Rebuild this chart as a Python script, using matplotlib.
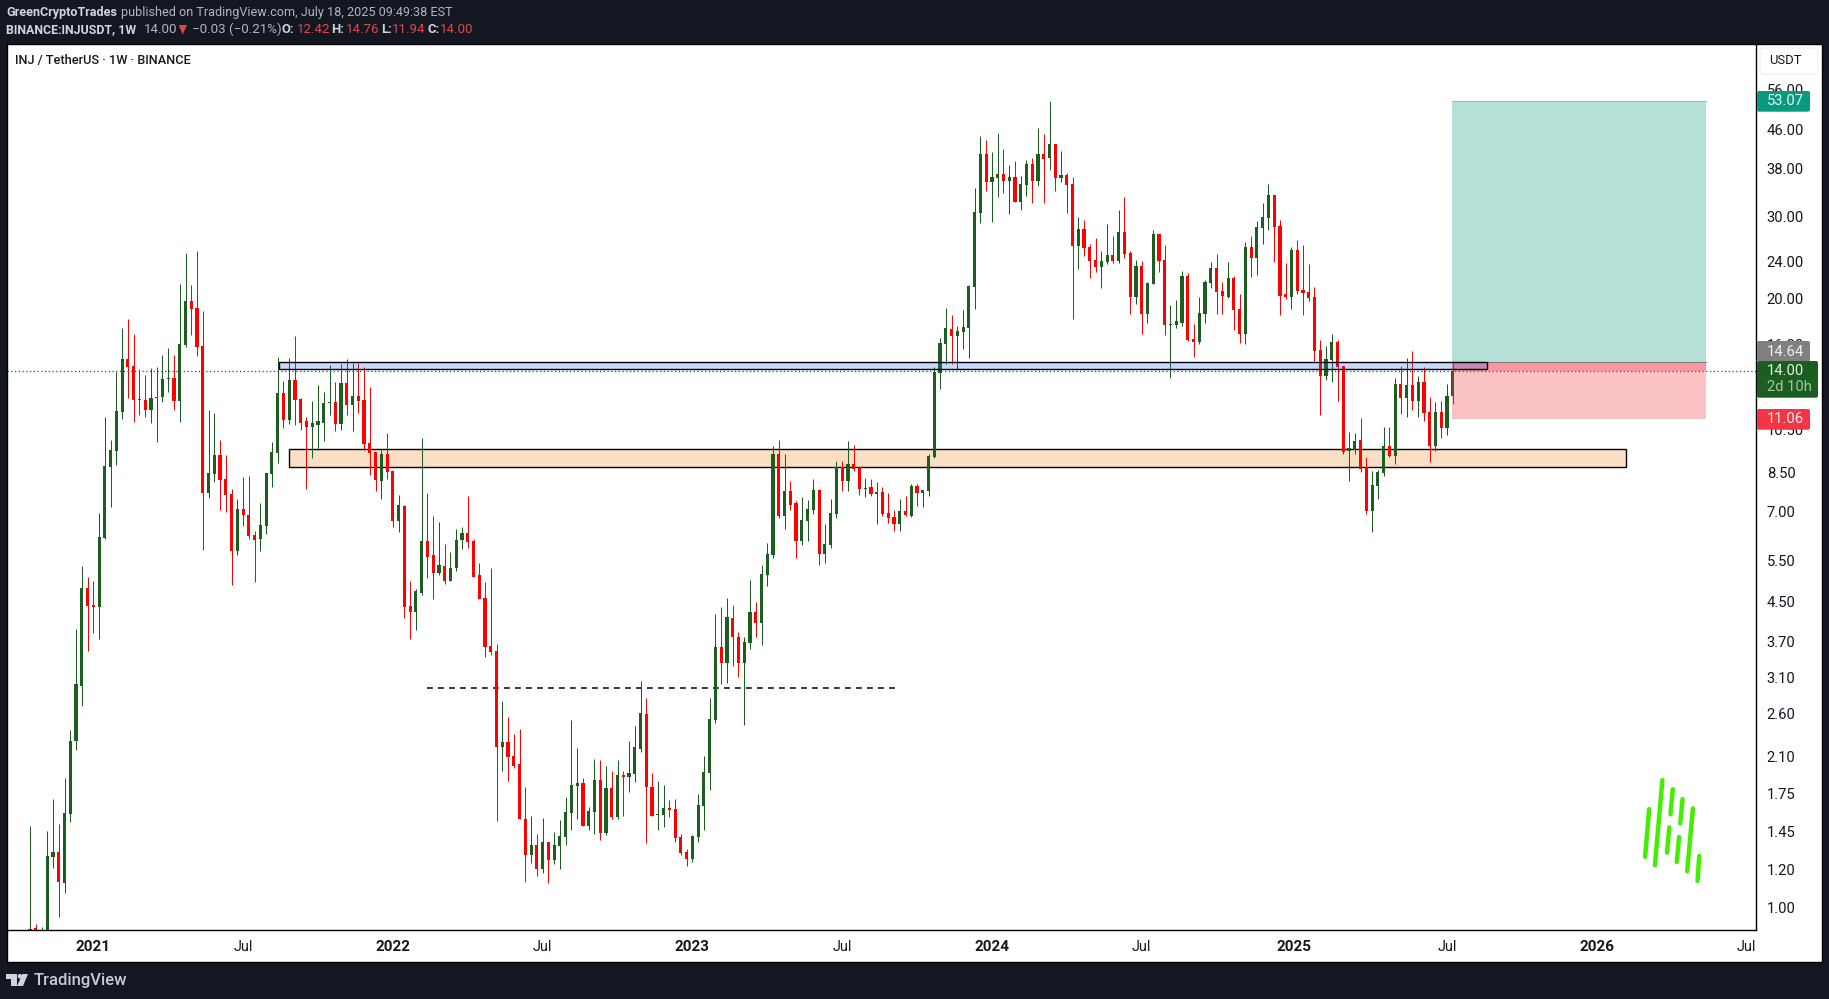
import numpy as np
import matplotlib
matplotlib.use("Agg")
import matplotlib.pyplot as plt
from matplotlib.patches import FancyBboxPatch, Rectangle, Polygon, Circle
from matplotlib.transforms import IdentityTransform
from matplotlib.ticker import NullLocator, FixedLocator, FixedFormatter

# ---------- data (weekly candles, index 0 = Oct 2020) ----------
directions = ("grgggrgggg" "rrgggggrrr" "rggggrggrr" "rggrrrgrrr" "ggggrgrrrg"
              "gggrgrgrrr" "rgrrgrrggr" "rgrgggrrrr" "rrgrrrrgrg" "rgggggrggr"
              "grgrgggrrg" "grrrrggggg" "rgrrggrggg" "rgrrgggrgg" "grgrrgrgrr"
              "rgrgrggggg" "rgggggrggr" "grggrgrgrg" "rrgrrrggrg"
              "rrgrggrrgg" "grrgggrrgr" "rgrgggrrrg" "rrrrrggrrg" "grrgggrgrg" "rgrrgrgg")

highs = [1.49,0.92,0.906,1.454,1.70,1.505,1.888,2.39,3.93,5.36,
 5.08,4.98,6.96,11.19,9.98,13.96,17.33,18.1,16.83,14.16,
 13.75,14.23,14.3,15.17,15.7,15.17,21.5,25.07,21.4,25.3,
 18.84,11.57,11.39,9.98,9.27,7.84,7.46,8.31,8.36,6.37,
 7.32,8.48,9.88,15.0,13.35,14.95,16.67,12.28,11.18,12.09,
 13.08,12.64,14.44,13.28,14.51,14.87,14.58,14.58,14.3,12.95,
 9.4,9.5,10.33,8.61,7.62,7.25,4.98,4.79,10.08,7.69,
 6.86,6.66,5.98,5.75,6.44,6.5,7.58,6.13,5.44,4.96,
 5.31,3.66,2.76,2.55,2.35,2.40,1.806,1.566,1.433,1.55,
 1.377,1.447,1.535,1.72,2.51,2.19,1.888,1.636,2.07,2.063,
 2.0,1.954,2.063,1.954,2.26,2.44,3.04,2.8,1.935,1.86,
 1.823,1.694,1.702,1.433,1.33,1.426,1.745,2.105,2.8,4.23,
 4.38,4.58,4.43,3.88,3.78,5.0,4.49,5.39,6.0,9.7,
 9.98,9.31,8.15,7.39,7.54,7.43,8.23,7.84,6.6,7.46,
 9.0,9.0,9.93,9.74,8.79,8.27,8.23,8.11,7.91,7.69,
 7.07,7.46,7.58,8.03,8.03,7.8,9.31,14.3,16.5,19.11,
 18.47,17.5,18.93,21.4,34.55,44.7,43.75,41.2,45.3,41.85,
 38.7,39.44,36.65,39.64,40.04,46.4,45.1,53.07,42.9,41.44,
 37.2,36.4,29.9,29.5,26.2,27.0,25.3,28.9,27.3,31.0,
 33.0,25.3,24.22,24.1,21.73,28.08,27.5,26.08,19.4,19.89,
 22.95,22.7,17.7,20.2,21.95,23.98,24.95,21.73,23.98,22.4,
 20.5,26.46,27.3,29.35,32.05,35.2,33.37,29.5,23.85,25.81,
 26.73,26.08,23.75,21.2,16.33,15.86,16.83,16.33,14.37,10.38,
 10.33,11.12,9.18,8.57,8.61,10.65,10.65,13.54,14.37,14.95,
 15.47,13.68,14.3,12.34,12.03,12.09,13.14,14.76]

body_tops = [.896,.90,.871,1.286,1.311,1.311,1.59,2.27,3.00,4.81,
 4.81,4.43,6.19,8.77,9.50,11.5,14.87,14.87,14.37,12.21,
 12.15,12.28,12.34,13.48,13.54,13.54,16.0,19.79,19.79,19.11,
 15.86,8.48,9.27,9.27,8.23,7.65,7.10,7.10,6.9,6.25,
 6.56,8.48,9.4,12.58,12.58,13.41,13.41,12.21,10.96,10.85,
 10.96,11.97,12.03,12.03,13.21,13.21,12.4,12.4,12.15,9.83,
 9.4,9.31,9.31,8.57,7.25,7.21,4.41,4.74,6.07,6.07,
 5.66,5.39,5.36,5.31,6.1,6.31,6.31,6.07,5.13,4.58,
 3.62,3.53,2.25,2.25,2.1,2.02,1.543,1.357,1.357,1.377,
 1.377,1.357,1.419,1.597,1.823,1.84,1.84,1.604,1.869,1.869,
 1.797,1.797,1.916,1.916,1.935,2.2,2.6,2.59,1.806,1.582,
 1.628,1.628,1.62,1.412,1.311,1.419,1.654,1.945,2.52,3.6,
 3.6,4.17,4.15,3.78,3.69,4.27,4.27,5.16,5.69,9.31,
 9.31,7.76,7.76,7.32,6.73,7.1,7.8,7.8,5.98,6.96,
 8.74,8.74,8.87,8.87,8.74,7.88,7.91,7.73,7.73,6.96,
 6.83,7.03,7.03,7.95,7.95,7.8,9.22,13.96,16.1,17.33,
 17.25,17.07,17.41,21.3,30.7,40.8,40.8,36.4,37.0,37.0,
 36.4,36.4,35.2,38.9,38.9,40.8,40.8,42.9,42.9,36.8,
 36.8,35.2,28.2,28.2,25.8,24.22,24.1,24.8,24.8,27.8,
 27.8,25.07,23.5,23.5,21.62,27.5,27.5,24.22,17.7,17.9,
 22.4,22.4,16.41,18.65,21.73,23.28,23.28,20.8,22.17,22.17,
 19.02,25.81,25.81,28.5,29.95,33.37,33.37,28.65,20.5,25.44,
 25.44,20.89,20.7,20.2,15.55,14.87,16.17,16.17,14.37,9.59,
 9.93,9.98,8.74,7.99,8.52,9.69,9.69,13.14,13.14,13.08,
 13.08,13.28,13.28,11.44,11.44,11.44,12.4,14.0]

body_bottoms = [.83,.87,.817,.85,1.279,1.131,1.125,1.582,2.27,2.97,
 4.41,4.38,4.38,6.16,8.74,9.45,11.44,14.3,12.15,12.15,
 11.57,11.57,12.28,12.34,13.48,12.09,12.09,15.94,19.02,15.78,
 7.69,7.69,8.44,8.2,7.62,5.78,5.78,6.9,6.22,6.1,
 6.13,6.53,8.44,9.36,11.01,11.01,12.15,10.85,10.65,10.65,
 10.76,10.85,11.97,10.8,10.8,11.86,11.86,12.09,9.78,9.36,
 8.2,8.15,8.52,6.7,6.7,4.38,4.27,4.27,4.69,5.61,
 5.18,5.18,4.98,4.98,5.31,6.1,6.04,5.08,4.56,3.6,
 3.51,2.2,2.2,2.09,2.0,1.54,1.29,1.29,1.206,1.206,
 1.26,1.26,1.35,1.41,1.59,1.815,1.49,1.49,1.597,1.44,
 1.44,1.558,1.558,1.897,1.897,1.926,2.18,1.806,1.566,1.574,
 1.574,1.612,1.405,1.305,1.267,1.267,1.412,1.645,1.935,2.512,
 3.33,3.33,3.78,3.33,3.33,3.67,4.05,4.05,5.13,5.66,
 6.86,6.86,7.25,6.07,6.07,6.7,7.07,5.69,5.69,5.95,
 6.93,8.15,8.15,8.65,7.84,7.84,7.65,7.65,6.93,6.79,
 6.6,6.6,6.9,6.86,7.69,7.69,7.76,9.18,13.89,16.0,
 16.67,16.67,16.98,17.33,21.2,30.5,35.56,35.56,36.2,35.74,
 35.74,32.2,32.2,35.05,35.74,35.74,39.84,40.04,36.2,36.2,
 35.05,26.0,26.0,25.7,24.1,23.4,23.4,24.0,24.1,24.1,
 24.95,20.2,20.2,18.6,18.6,21.5,24.1,17.6,17.6,17.6,
 17.8,16.33,16.17,16.17,18.6,21.62,20.7,20.3,20.2,18.93,
 16.83,16.83,24.45,24.45,28.36,29.8,28.5,20.3,20.2,20.2,
 20.8,20.6,20.09,15.47,13.68,13.68,14.8,14.3,9.4,9.45,
 9.5,8.65,7.03,7.03,7.95,8.48,9.22,9.22,12.28,12.28,
 12.09,12.09,11.39,9.69,9.69,10.6,10.6,12.42]

lows = [.79,.83,.79,.83,1.212,.952,1.071,1.52,2.167,2.69,
 3.53,3.85,3.74,6.12,7.17,8.82,11.07,12.28,10.9,11.29,
 11.18,10.85,9.88,12.03,12.64,11.57,10.9,15.78,16.75,15.1,
 5.80,7.5,8.11,7.07,6.99,4.89,5.66,6.54,6.13,4.96,
 5.78,6.29,7.91,8.91,10.6,10.8,10.76,10.48,7.84,9.13,
 9.59,9.93,11.29,10.43,10.48,11.29,10.43,11.39,9.5,8.4,
 7.76,7.46,8.23,6.5,6.34,4.15,3.74,3.91,4.64,5.06,
 4.56,5.13,4.9,4.98,5.23,5.83,5.86,5.08,4.56,3.42,
 3.46,1.527,1.95,1.86,1.98,1.54,1.131,1.242,1.165,1.182,
 1.125,1.236,1.206,1.357,1.461,1.543,1.49,1.461,1.433,1.391,
 1.426,1.543,1.543,1.566,1.762,1.851,2.145,1.37,1.566,1.461,
 1.483,1.558,1.377,1.292,1.224,1.248,1.377,1.461,1.779,2.475,
 3.0,3.01,3.28,3.1,2.45,3.57,3.78,3.63,4.86,5.58,
 6.79,6.44,7.07,5.58,5.95,6.07,6.93,5.39,5.44,5.86,
 6.79,7.76,7.76,8.57,7.62,7.54,7.58,6.6,6.86,6.63,
 6.37,6.37,6.86,6.83,7.21,7.17,7.58,9.13,12.83,14.51,
 14.51,14.16,15.63,14.95,19.02,29.06,34.0,29.2,33.0,33.7,
 30.4,32.2,30.99,33.2,32.0,34.9,32.0,37.74,34.0,35.56,
 30.5,18.1,23.2,24.7,22.2,22.85,21.1,23.75,23.85,23.85,
 24.45,18.6,19.5,16.83,17.8,21.5,22.85,16.75,13.55,17.33,
 17.5,16.25,15.0,16.0,17.8,21.1,18.6,18.6,20.09,17.16,
 16.1,16.0,22.3,22.55,26.2,28.08,23.98,18.47,20.0,19.02,
 20.5,18.47,19.8,14.72,11.29,13.41,13.28,12.09,9.31,8.15,
 9.31,8.52,6.93,6.34,7.46,8.36,9.18,8.87,11.34,11.18,
 11.57,11.18,10.96,8.96,9.45,10.08,10.23,11.94]

price_ticks = [1.00,1.20,1.45,1.75,2.10,2.60,3.10,3.70,4.50,5.50,7.00,8.50,10.50,13.00,16.00,20.00,24.00,30.00,38.00,46.00,56.00]
x_tick_pos = [11,37,63,89,115,141,167,193,219.5,246,272,298]
x_tick_labels = ["2021","Jul","2022","Jul","2023","Jul","2024","Jul","2025","Jul","2026","Jul"]

last_price = 14.00
entry_price, target_price, stop_price = 14.64, 53.07, 11.06
blue_zone = (43.2, 253.0, 14.14, 14.64)
orange_zone = (45.0, 277.0, 8.72, 9.55)
dashed_level = (69.0, 150.2, 2.94)
position_span = (246.9, 291.0)

scribble_x = [(281.1,280.4),(283.4,282.1),(285.2,284.8),(284.6,284.2),(286.9,286.5),(286.3,285.9),(288.7,287.7),(289.8,289.5)]
scribble_p = [(1.62,1.28),(1.869,1.228),(1.786,1.579),(1.481,1.307),(1.702,1.51),(1.412,1.248),(1.626,1.192),(1.286,1.137)]

# ---------- layout ----------
W, H = 1829, 999
DARK = "#131722"
FONT = "Roboto"
GREEN = "#1b5e20"
RED = "#ff0000"
fig = plt.figure(figsize=(W/100, H/100), dpi=100, facecolor=DARK)
plt.rcParams["font.family"] = FONT

def axrect(l, t, r, b):
    return [l/W, 1-b/H, (r-l)/W, (b-t)/H]

panel = fig.add_axes(axrect(7, 44, 1822, 962), facecolor="white", zorder=0)
panel.set_xticks([]); panel.set_yticks([])
for s in panel.spines.values():
    s.set_color("black"); s.set_linewidth(1.0)

ax = fig.add_axes(axrect(7, 44, 1756, 930), facecolor="none", zorder=1)
ax.set_yscale("log")
ax.set_xlim(-3.99, 299.65)
ax.set_ylim(0.8929, 70.19)
for side in ("top", "left"):
    ax.spines[side].set_visible(False)
for side in ("bottom", "right"):
    ax.spines[side].set_color("black"); ax.spines[side].set_linewidth(1.0)

# price axis
ax.yaxis.tick_right()
ax.yaxis.set_major_locator(FixedLocator(price_ticks))
ax.yaxis.set_major_formatter(FixedFormatter([f"{p:.2f}" for p in price_ticks]))
ax.yaxis.set_minor_locator(NullLocator())
ax.tick_params(axis="y", which="both", length=0, pad=7.7, labelsize=10.6, labelcolor="#131722")
for lab in ax.get_yticklabels():
    lab.set_fontfamily(FONT)

# time axis
ax.set_xticks(x_tick_pos)
ax.set_xticklabels(x_tick_labels)
ax.tick_params(axis="x", length=0, pad=7.0, labelcolor="#131722")
for lab, txt in zip(ax.get_xticklabels(), x_tick_labels):
    lab.set_fontfamily(FONT)
    if txt.isdigit():
        lab.set_fontweight("bold"); lab.set_fontsize(11)
    else:
        lab.set_fontsize(10.4)

# zones below candles
ax.add_patch(Rectangle((orange_zone[0], orange_zone[2]), orange_zone[1]-orange_zone[0], orange_zone[3]-orange_zone[2],
                       facecolor="#fbdfc4", edgecolor="black", linewidth=1.0, zorder=1))

# dotted last price line
ax.axhline(last_price, color=GREEN, linestyle=(0, (1, 2)), linewidth=0.9, zorder=1.5)

# dashed level
ax.plot(dashed_level[:2], [dashed_level[2]]*2, color="black", linestyle=(0, (3.8, 3.4)), linewidth=1.1, zorder=1.5)

# candles
xs = np.arange(len(highs))
colors = [GREEN if d == "g" else RED for d in directions]
wicks = ax.vlines(xs, lows, highs, colors=colors, linewidth=0.72, zorder=2)
wicks.set_snap(True)
ax.bar(xs, np.array(body_tops)-np.array(body_bottoms), bottom=body_bottoms, width=0.55,
       color=colors, linewidth=0, zorder=2.1)

# zone above candles
ax.add_patch(Rectangle((blue_zone[0], blue_zone[2]), blue_zone[1]-blue_zone[0], blue_zone[3]-blue_zone[2],
                       facecolor=(0.16, 0.38, 1.0, 0.25), edgecolor="black", linewidth=1.0, zorder=3))

# long position tool
p0, p1 = position_span
ax.add_patch(Rectangle((p0, entry_price), p1-p0, target_price-entry_price, facecolor="#089981", alpha=0.3, linewidth=0, zorder=2.5))
ax.add_patch(Rectangle((p0, stop_price), p1-p0, entry_price-stop_price, facecolor="#f23645", alpha=0.3, linewidth=0, zorder=2.5))
ax.add_patch(Rectangle((p0, last_price), p1-p0, entry_price-last_price, facecolor="#f23645", alpha=0.3, linewidth=0, zorder=2.6))
ax.plot([p0, p1], [entry_price]*2, color="#808080", linewidth=0.8, zorder=2.7)
ax.plot([p0, p1], [target_price]*2, color="#7fcdbf", linewidth=0.8, zorder=2.7)

# green scribble
for sx, sp in zip(scribble_x, scribble_p):
    ax.plot(sx, sp, color="#44ee00", linewidth=3.2, solid_capstyle="round", zorder=4)

# ---------- price labels ----------
def label_box(x0, x1, y0, y1, color):
    b = FancyBboxPatch((x0, H-y1), x1-x0, y1-y0, boxstyle="round,pad=0,rounding_size=2",
                       transform=IdentityTransform(), facecolor=color, edgecolor="none", zorder=6)
    fig.add_artist(b)

def ftext(x, y, s, color, size=10.6, weight="normal", **kw):
    fig.text(x/W, 1-y/H, s, color=color, fontsize=size, fontweight=weight, fontfamily=FONT,
             va="center", ha=kw.pop("ha", "left"), zorder=7, **kw)

label_box(1757, 1810, 91, 111.7, "#089981")
ftext(1767, 101, "53.07", "#e8f5f2")
label_box(1757, 1810, 341, 361.7, "#808080")
ftext(1767, 351.5, "14.64", "#f0f0f0")
label_box(1757, 1818, 361, 397.7, GREEN)
ftext(1767, 371, "14.00", "#e8efe8")
ftext(1767, 387, "2d 10h", "#a9c4aa")
label_box(1757, 1810, 409, 429.7, "#f23645")
ftext(1767, 419, "11.06", "#fdecee")

# unit button
btn = FancyBboxPatch((1760, H-74), 58, 26, boxstyle="round,pad=0,rounding_size=4", transform=IdentityTransform(),
                     facecolor="white", edgecolor="#f0f3fa", linewidth=1.2, zorder=6)
fig.add_artist(btn)
ftext(1769, 61, "USDT", "#131722", size=9.4)

# chart title
ftext(15.3, 60.5, "INJ / TetherUS · 1W · BINANCE", "#131722", size=9.2, weight="medium")

# ---------- header ----------
HL = "#d1d4dc"; HG = "#b2b5be"; HR = "#e0464e"
ftext(6, 12.5, "GreenCryptoTrades", HL, size=9.1, weight="bold")
ftext(121, 12.5, "published on TradingView.com, July 18, 2025 09:49:38 EST", HG, size=9.05)
ftext(6, 29.5, "BINANCE:INJUSDT, 1W", HL, size=8.9, weight="bold")
ftext(143.5, 29.5, "14.00", HG, size=9.6)
fig.add_artist(Polygon([[178.5, H-25], [187, H-25], [182.7, H-34.5]], closed=True, transform=IdentityTransform(),
                       facecolor=HR, edgecolor="none", zorder=7))
ftext(192, 29.5, "\u22120.03 (\u22120.21%)", HG, size=9.6)
for x_lab, lab, x_val, val in [(281, "O:", 296.6, "12.42"), (331, "H:", 345.6, "14.76"),
                               (381.5, "L:", 392, "11.94"), (428, "C:", 440, "14.00")]:
    ftext(x_lab, 29.5, lab, HL, size=9.4, weight="bold")
    ftext(x_val, 29.5, val, HR, size=9.6)

# ---------- footer logo ----------
LOGO = "#d1d4dc"
fig.add_artist(Polygon([[6, H-974], [16.5, H-974], [16.5, H-986], [11, H-986], [11, H-979], [6, H-979]], closed=True,
                       transform=IdentityTransform(), facecolor=LOGO, edgecolor="none", zorder=7))
fig.add_artist(Circle((20, H-976.3), 2.3, transform=IdentityTransform(), facecolor=LOGO, edgecolor="none", zorder=7))
fig.add_artist(Polygon([[22.5, H-974], [28, H-974], [23, H-986], [17, H-986]], closed=True,
                       transform=IdentityTransform(), facecolor=LOGO, edgecolor="none", zorder=7))
ftext(33.5, 980.5, "TradingView", "#c8ccd4", size=12.0, weight="medium")

fig.savefig("out.png", dpi=100, facecolor=DARK)
